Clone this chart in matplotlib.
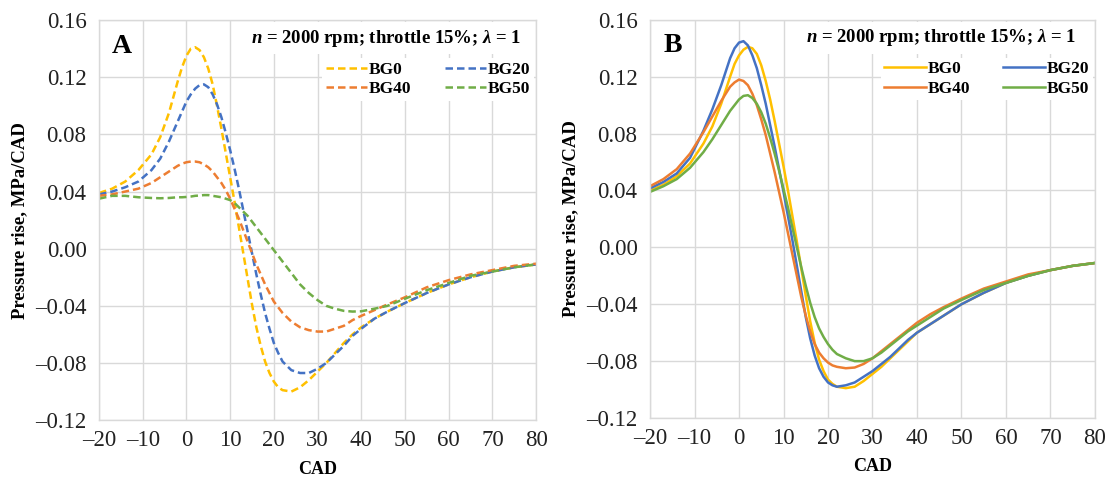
import matplotlib
matplotlib.use("Agg")
import matplotlib.pyplot as plt
from matplotlib.ticker import FuncFormatter

plt.rcParams['font.family'] = ['Liberation Serif', 'DejaVu Serif']
plt.rcParams['mathtext.fontset'] = 'custom'
plt.rcParams['mathtext.rm'] = 'Liberation Serif'
plt.rcParams['mathtext.bf'] = 'Liberation Serif:bold'
plt.rcParams['mathtext.it'] = 'Liberation Serif:italic'
plt.rcParams['mathtext.bfit'] = 'Liberation Serif:bold:italic'

# ---------------- data ----------------
cad = [-20, -17, -14, -11, -8, -6, -4, -2, -1, 0, 1, 2, 3, 4, 5, 6, 7, 8, 9, 10,
       11, 12, 13, 14, 15, 16, 17, 18, 19, 20, 21, 22, 24, 26, 28, 30, 32, 34, 36, 38,
       40, 43, 46, 50, 55, 60, 65, 70, 75, 80]

series_names = ["BG0", "BG20", "BG40", "BG50"]

# Panel A (dashed lines)
a_bg0 = [0.039, 0.042, 0.047, 0.055, 0.066, 0.078, 0.095, 0.117, 0.127, 0.135,
         0.140, 0.141, 0.139, 0.134, 0.126, 0.115, 0.100, 0.084, 0.067, 0.050,
         0.033, 0.015, -0.003, -0.021, -0.039, -0.055, -0.068, -0.079, -0.087, -0.093,
         -0.097, -0.099, -0.100, -0.097, -0.092, -0.086, -0.080, -0.073, -0.066, -0.060,
         -0.055, -0.049, -0.044, -0.038, -0.031, -0.025, -0.020, -0.016, -0.013, -0.011]
a_bg20 = [0.038, 0.040, 0.043, 0.047, 0.055, 0.063, 0.075, 0.089, 0.096, 0.103,
          0.108, 0.112, 0.1145, 0.115, 0.113, 0.108, 0.101, 0.092, 0.081, 0.069,
          0.056, 0.042, 0.027, 0.012, -0.003, -0.018, -0.032, -0.045, -0.056, -0.066,
          -0.073, -0.079, -0.085, -0.087, -0.087, -0.084, -0.080, -0.074, -0.068, -0.061,
          -0.056, -0.049, -0.044, -0.038, -0.031, -0.025, -0.020, -0.016, -0.013, -0.011]
a_bg40 = [0.037, 0.038, 0.040, 0.042, 0.046, 0.050, 0.054, 0.058, 0.0595, 0.0605,
          0.061, 0.061, 0.0605, 0.059, 0.057, 0.054, 0.050, 0.046, 0.041, 0.035,
          0.028, 0.021, 0.013, 0.005, -0.003, -0.011, -0.018, -0.025, -0.031, -0.037,
          -0.041, -0.045, -0.051, -0.055, -0.057, -0.058, -0.058, -0.056, -0.054, -0.050,
          -0.047, -0.043, -0.039, -0.034, -0.027, -0.022, -0.018, -0.015, -0.012, -0.0105]
a_bg50 = [0.035, 0.037, 0.037, 0.036, 0.0355, 0.0353, 0.0355, 0.036, 0.036, 0.0362,
          0.0365, 0.037, 0.0372, 0.0375, 0.0375, 0.037, 0.0365, 0.036, 0.035, 0.034,
          0.032, 0.029, 0.026, 0.023, 0.019, 0.015, 0.011, 0.007, 0.003, -0.001,
          -0.005, -0.009, -0.017, -0.025, -0.031, -0.036, -0.040, -0.042, -0.0435, -0.044,
          -0.0438, -0.042, -0.040, -0.035, -0.029, -0.024, -0.019, -0.016, -0.013, -0.011]

# Panel B (solid lines)
b_bg0 = [0.040, 0.044, 0.050, 0.059, 0.073, 0.085, 0.101, 0.120, 0.129, 0.135,
         0.139, 0.141, 0.140, 0.136, 0.128, 0.117, 0.104, 0.089, 0.073, 0.057,
         0.040, 0.022, 0.004, -0.015, -0.034, -0.052, -0.067, -0.079, -0.087, -0.093,
         -0.096, -0.098, -0.099, -0.098, -0.094, -0.089, -0.084, -0.078, -0.072, -0.066,
         -0.060, -0.054, -0.048, -0.040, -0.032, -0.025, -0.020, -0.016, -0.013, -0.011]
b_bg20 = [0.0415, 0.046, 0.052, 0.063, 0.082, 0.097, 0.114, 0.133, 0.140, 0.144,
          0.145, 0.142, 0.135, 0.126, 0.114, 0.101, 0.086, 0.071, 0.055, 0.039,
          0.022, 0.005, -0.013, -0.031, -0.049, -0.064, -0.076, -0.085, -0.091, -0.095,
          -0.097, -0.098, -0.097, -0.095, -0.091, -0.087, -0.082, -0.077, -0.071, -0.065,
          -0.060, -0.054, -0.048, -0.040, -0.032, -0.025, -0.020, -0.016, -0.013, -0.011]
b_bg40 = [0.043, 0.048, 0.055, 0.066, 0.081, 0.092, 0.103, 0.113, 0.116, 0.118,
          0.117, 0.114, 0.108, 0.100, 0.090, 0.079, 0.066, 0.053, 0.039, 0.025,
          0.010, -0.005, -0.020, -0.035, -0.048, -0.059, -0.068, -0.074, -0.078, -0.081,
          -0.083, -0.084, -0.085, -0.0845, -0.082, -0.078, -0.073, -0.068, -0.063, -0.058,
          -0.053, -0.047, -0.042, -0.036, -0.029, -0.024, -0.019, -0.016, -0.013, -0.011]
b_bg50 = [0.039, 0.043, 0.048, 0.056, 0.067, 0.076, 0.086, 0.096, 0.100, 0.104,
          0.1065, 0.107, 0.105, 0.101, 0.095, 0.087, 0.077, 0.066, 0.054, 0.041,
          0.028, 0.014, 0.000, -0.014, -0.027, -0.039, -0.049, -0.057, -0.063, -0.068,
          -0.072, -0.075, -0.078, -0.080, -0.080, -0.078, -0.074, -0.069, -0.064, -0.059,
          -0.055, -0.049, -0.043, -0.037, -0.030, -0.025, -0.020, -0.016, -0.013, -0.011]

x_ticks = [-20, -10, 0, 10, 20, 30, 40, 50, 60, 70, 80]
y_ticks = [-0.12, -0.08, -0.04, 0.00, 0.04, 0.08, 0.12, 0.16]

colors = ["#FFC000", "#4472C4", "#ED7D31", "#70AD47"]
annot = r"$\mathbfit{n}$ = 2000 rpm; throttle 15%; $\mathbfit{\lambda}$ = 1"

fig = plt.figure(figsize=(11.15, 4.78), dpi=100)
axA = fig.add_axes([0.0888, 0.121, 0.392, 0.837])
axB = fig.add_axes([0.583, 0.1255, 0.399, 0.833])

fmt_y = FuncFormatter(lambda v, p: f"{v:.2f}".replace("-", "\u2013"))
fmt_x = FuncFormatter(lambda v, p: f"{v:.0f}".replace("-", "\u2013"))


def style(ax, label, annot_x):
    ax.set_xlim(-20, 80)
    ax.set_ylim(-0.12, 0.16)
    ax.set_xticks(x_ticks)
    ax.set_yticks(y_ticks)
    ax.xaxis.set_major_formatter(fmt_x)
    ax.yaxis.set_major_formatter(fmt_y)
    ax.grid(True, color="#D9D9D9", lw=1.0)
    ax.set_axisbelow(True)
    for s in ax.spines.values():
        s.set_color("#D9D9D9")
        s.set_linewidth(1.0)
    ax.tick_params(length=0, labelsize=16.5, colors="#222222")
    ax.tick_params(axis="y", pad=9)
    ax.tick_params(axis="x", pad=7)
    ax.set_xlabel("CAD", fontsize=13, fontweight="bold", labelpad=7)
    ax.set_ylabel("Pressure rise, MPa/CAD", fontsize=13.5, fontweight="bold", labelpad=5)
    ax.text(annot_x, 0.955, annot, transform=ax.transAxes, ha="right", va="center",
            fontsize=13.5, fontweight="bold", zorder=5,
            bbox=dict(facecolor="white", edgecolor="none", pad=4))
    ax.text(0.03, 0.935, label, transform=ax.transAxes, ha="left", va="center",
            fontsize=20, fontweight="bold", zorder=5)


A_data = [a_bg0, a_bg20, a_bg40, a_bg50]
B_data = [b_bg0, b_bg20, b_bg40, b_bg50]

linesA = []
for name, ys, c in zip(series_names, A_data, colors):
    ln, = axA.plot(cad, ys, color=c, lw=1.8, linestyle=(0, (3, 1.6)), label=name)
    linesA.append(ln)
linesB = []
for name, ys, c in zip(series_names, B_data, colors):
    ln, = axB.plot(cad, ys, color=c, lw=1.8, label=name)
    linesB.append(ln)

style(axA, "A", 0.966)
style(axB, "B", 0.958)

order = [0, 2, 1, 3]  # row-wise: BG0 BG20 / BG40 BG50
for ax, lines in ((axA, linesA), (axB, linesB)):
    leg = ax.legend([lines[i] for i in order], [series_names[i] for i in order],
                    ncol=2, loc="upper right", bbox_to_anchor=(0.995, 0.905),
                    borderaxespad=0.0, frameon=True, fancybox=False, framealpha=1.0,
                    edgecolor="white",
                    prop={"family": "Liberation Serif", "weight": "bold", "size": 12.5},
                    handlelength=2.4, handletextpad=0.1, columnspacing=1.9,
                    labelspacing=0.2, borderpad=0.2)
    leg.get_frame().set_linewidth(0)

fig.savefig("out.png", dpi=100)
